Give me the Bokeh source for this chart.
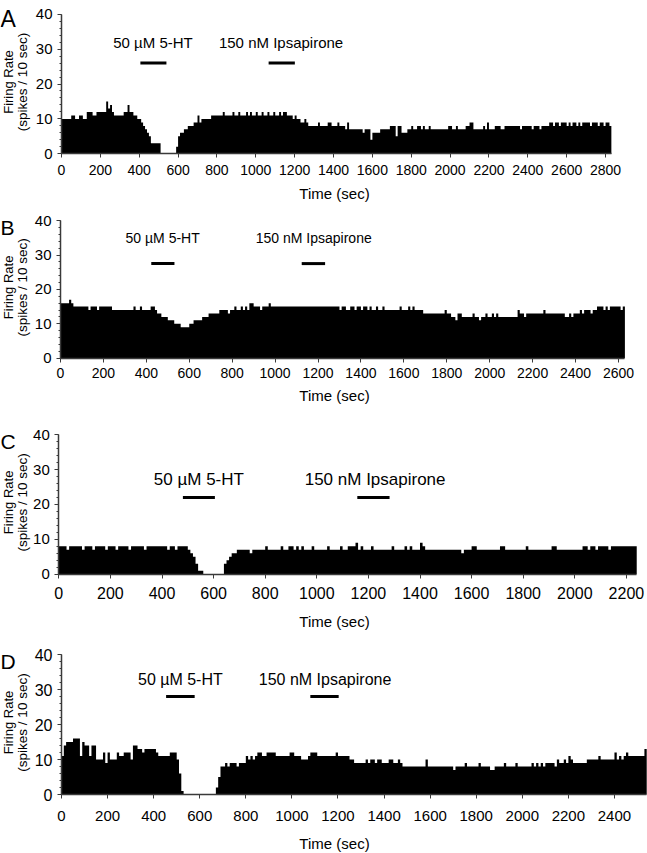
import math
from bokeh.plotting import figure
from bokeh.models import Range1d, SingleIntervalTicker, Label, LinearAxis
from bokeh.layouts import column
from bokeh.embed import file_html
from bokeh.resources import INLINE

BIN_SEC = 10
DRUG_NAMES = ["50 µM 5-HT", "150 nM Ipsapirone"]
Y_TICKS = [0, 10, 20, 30, 40]

# firing rate per 10-s bin (spikes / 10 sec)
rate_a = [
    10, 10, 10, 10, 10, 11, 11, 10, 10, 11,
    11, 10, 10, 12, 12, 12, 11, 11, 12, 12,
    12, 12, 12, 15, 13, 14, 12, 11, 11, 11,
    11, 11, 12, 12, 14, 12, 12, 11, 11, 10,
    10, 9, 8, 7, 6, 5, 3, 3, 3, 3,
    3, 0, 0, 0, 0, 0, 0, 0, 0, 2,
    5, 6, 6, 7, 7, 8, 8, 8, 9, 9,
    11, 9, 10, 10, 10, 10, 10, 11, 11, 11,
    11, 11, 11, 12, 11, 11, 11, 11, 12, 11,
    11, 12, 11, 11, 11, 12, 11, 12, 11, 11,
    12, 11, 11, 12, 11, 11, 12, 11, 11, 12,
    11, 11, 12, 11, 12, 12, 11, 11, 11, 10,
    11, 10, 10, 9, 9, 10, 9, 8, 8, 8,
    8, 8, 9, 8, 8, 8, 8, 9, 9, 8,
    8, 8, 9, 8, 8, 8, 7, 9, 7, 7,
    7, 7, 7, 7, 7, 6, 7, 7, 7, 4,
    6, 6, 6, 6, 7, 7, 7, 7, 7, 8,
    8, 8, 5, 8, 8, 6, 6, 6, 7, 7,
    8, 7, 7, 8, 8, 7, 8, 7, 7, 8,
    7, 7, 7, 7, 7, 7, 7, 7, 7, 8,
    8, 7, 7, 8, 7, 7, 7, 7, 8, 8,
    9, 9, 7, 7, 7, 7, 7, 8, 7, 9,
    7, 7, 7, 8, 8, 8, 7, 7, 8, 8,
    8, 8, 8, 8, 8, 8, 7, 8, 8, 8,
    8, 8, 7, 8, 8, 8, 7, 8, 8, 8,
    8, 9, 9, 8, 9, 9, 8, 9, 9, 9,
    8, 9, 8, 9, 9, 8, 9, 8, 9, 9,
    9, 9, 8, 9, 9, 9, 8, 9, 9, 8,
    9, 9, 8,
]

rate_b = [
    16, 16, 16, 16, 17, 16, 15, 15, 15, 15,
    15, 15, 15, 14, 15, 15, 15, 14, 15, 15,
    15, 15, 15, 15, 14, 14, 14, 14, 14, 14,
    14, 14, 14, 14, 15, 14, 14, 15, 14, 14,
    14, 14, 15, 15, 14, 13, 13, 12, 12, 12,
    11, 11, 11, 10, 10, 10, 9, 9, 9, 9,
    10, 10, 11, 11, 11, 11, 12, 12, 12, 13,
    13, 13, 13, 13, 14, 14, 14, 14, 13, 14,
    14, 15, 14, 14, 15, 14, 15, 14, 16, 16,
    15, 15, 15, 14, 15, 15, 15, 16, 15, 15,
    15, 15, 15, 15, 15, 15, 15, 15, 15, 15,
    15, 15, 15, 15, 15, 15, 15, 15, 15, 15,
    15, 15, 15, 15, 15, 15, 15, 15, 15, 15,
    14, 15, 15, 14, 14, 15, 15, 14, 15, 15,
    14, 15, 15, 14, 15, 14, 14, 15, 14, 14,
    15, 14, 14, 14, 14, 14, 14, 14, 15, 14,
    14, 14, 15, 14, 15, 14, 14, 14, 14, 13,
    13, 13, 13, 13, 13, 13, 13, 13, 13, 14,
    13, 13, 12, 12, 11, 13, 13, 12, 12, 12,
    12, 12, 13, 12, 12, 11, 12, 12, 13, 12,
    12, 13, 12, 13, 12, 12, 12, 12, 12, 12,
    12, 12, 12, 14, 13, 13, 12, 13, 13, 13,
    13, 13, 13, 13, 13, 14, 13, 13, 13, 13,
    13, 13, 13, 13, 13, 12, 12, 13, 12, 13,
    13, 13, 14, 13, 14, 14, 14, 13, 14, 14,
    15, 15, 15, 14, 15, 14, 15, 15, 15, 15,
    15, 14, 15,
]

rate_c = [
    8, 8, 8, 7, 8, 8, 8, 8, 8, 7,
    8, 8, 8, 7, 8, 8, 8, 8, 7, 8,
    8, 8, 7, 8, 8, 8, 8, 7, 8, 8,
    8, 8, 8, 7, 8, 8, 8, 8, 8, 8,
    8, 8, 7, 8, 8, 7, 8, 8, 8, 8,
    7, 6, 5, 3, 1, 1, 0, 0, 0, 0,
    0, 0, 0, 0, 3, 4, 5, 6, 6, 7,
    7, 7, 7, 7, 6, 7, 7, 7, 7, 7,
    8, 7, 7, 7, 7, 7, 8, 7, 7, 8,
    8, 7, 8, 7, 8, 7, 7, 7, 8, 7,
    7, 7, 7, 7, 8, 7, 7, 7, 7, 8,
    7, 7, 8, 8, 8, 9, 7, 8, 7, 7,
    7, 8, 7, 7, 7, 7, 7, 7, 7, 8,
    7, 7, 7, 7, 8, 7, 8, 7, 7, 7,
    9, 8, 7, 7, 7, 7, 7, 7, 7, 7,
    7, 7, 7, 7, 7, 7, 6, 7, 7, 7,
    8, 8, 7, 7, 7, 7, 7, 7, 7, 7,
    7, 8, 8, 7, 7, 7, 7, 7, 7, 7,
    7, 8, 7, 7, 7, 7, 7, 7, 7, 7,
    7, 8, 8, 7, 7, 7, 7, 7, 7, 7,
    7, 7, 7, 8, 8, 7, 8, 8, 7, 8,
    8, 8, 8, 7, 8, 8, 8, 8, 8, 8,
    8, 8, 8, 8,
]

rate_d = [
    11, 14, 15, 15, 15, 16, 16, 16, 11, 15,
    14, 14, 11, 14, 14, 10, 10, 10, 12, 9,
    12, 10, 10, 10, 12, 11, 11, 12, 12, 12,
    10, 14, 14, 13, 13, 12, 13, 13, 13, 13,
    13, 12, 11, 11, 11, 11, 11, 12, 12, 12,
    10, 6, 1, 0, 0, 0, 0, 0, 0, 0,
    0, 0, 0, 0, 0, 0, 0, 2, 5, 8,
    8, 9, 8, 9, 9, 9, 8, 9, 9, 9,
    11, 10, 11, 10, 11, 12, 12, 11, 11, 12,
    12, 12, 12, 11, 11, 11, 11, 11, 11, 12,
    12, 11, 11, 11, 10, 10, 10, 11, 12, 12,
    12, 11, 11, 11, 11, 11, 11, 11, 11, 12,
    11, 11, 11, 11, 11, 10, 10, 9, 9, 9,
    9, 9, 10, 9, 10, 10, 9, 10, 10, 9,
    9, 9, 10, 10, 9, 9, 10, 9, 8, 8,
    8, 8, 8, 8, 8, 8, 8, 8, 10, 8,
    8, 8, 8, 8, 8, 8, 8, 8, 8, 8,
    7, 8, 8, 8, 8, 9, 8, 8, 8, 8,
    8, 9, 8, 8, 8, 8, 7, 7, 8, 8,
    8, 8, 9, 8, 8, 8, 8, 9, 8, 8,
    8, 8, 8, 8, 9, 8, 9, 8, 9, 8,
    9, 9, 9, 9, 8, 10, 9, 9, 10, 9,
    11, 10, 9, 9, 9, 9, 9, 9, 10, 10,
    10, 10, 10, 11, 10, 10, 10, 10, 10, 10,
    12, 10, 11, 10, 11, 12, 11, 11, 11, 11,
    11, 11, 11, 13,
]

# drug application periods (sec): [start, end]
a_5ht = [406, 540]
a_ips = [1066, 1201]
b_5ht = [423, 531]
b_ips = [1124, 1233]
c_5ht = [481, 605]
c_ips = [1157, 1282]
d_5ht = [454, 578]
d_ips = [1080, 1203]

FONT = "Liberation Sans"
W = 647
AXIS_COLOR = "#3a3a3a"

# layout of each panel, in page pixels
panels = [
    dict(letter="A", rates=rate_a, drugs=[a_5ht, a_ips], xmax=2830,
         top=0, H=207, x0=61, xs=0.1943, y0=153.3, ys=3.49,
         bar_y=26, lab_y=32, lab_x=[471, 1130], lab_size=15,
         xt_size=14, yt_size=15, xt_stand=7, time_px=(334, 192.5), time_size=15,
         letter_py=18.5, letter_size=23),
    dict(letter="B", rates=rate_b, drugs=[b_5ht, b_ips], xmax=2630,
         top=207, H=207, x0=60, xs=0.2146, y0=357.7, ys=3.44,
         bar_y=27.5, lab_y=34.8, lab_x=[476, 1180], lab_size=14,
         xt_size=14, yt_size=15, xt_stand=6, time_px=(334, 395), time_size=15,
         letter_py=227, letter_size=21),
    dict(letter="C", rates=rate_c, drugs=[c_5ht, c_ips], xmax=2240,
         top=414, H=218, x0=58.3, xs=0.2580, y0=573.7, ys=3.49,
         bar_y=22, lab_y=27.1, lab_x=[543, 1226], lab_size=17,
         xt_size=16, yt_size=15, xt_stand=9, time_px=(334, 621), time_size=15,
         letter_py=440.5, letter_size=21),
    dict(letter="D", rates=rate_d, drugs=[d_5ht, d_ips], xmax=2540,
         top=632, H=221, x0=61, xs=0.2304, y0=794, ys=3.5,
         bar_y=28, lab_y=32.9, lab_x=[516, 1144], lab_size=16,
         xt_size=15, yt_size=16, xt_stand=12, time_px=(334, 843), time_size=15,
         letter_py=660.5, letter_size=21),
]


def make_panel(cfg):
    x0, xs, y0, ys = cfg["x0"], cfg["xs"], cfg["y0"], cfg["ys"]
    top, H = cfg["top"], cfg["H"]

    def tx(px):  # page x pixel -> seconds
        return (px - x0) / xs

    def vy(py):  # page y pixel -> rate value
        return (y0 - py) / ys

    p = figure(width=W, height=H,
               x_range=Range1d(tx(0), tx(W)), y_range=Range1d(vy(top + H), vy(top)),
               output_backend="svg", toolbar_location=None,
               x_axis_location=None, y_axis_location=None)
    p.min_border_left = 0
    p.min_border_right = 0
    p.min_border_top = 0
    p.min_border_bottom = 0
    p.outline_line_color = None
    p.xgrid.visible = False
    p.ygrid.visible = False
    p.background_fill_color = "white"
    p.border_fill_color = "white"

    rates = cfg["rates"]
    n = len(rates)
    edges = [i * BIN_SEC for i in range(n + 1)]
    tops = list(rates) + [rates[-1]]
    p.varea_step(x=edges, y1=[0] * (n + 1), y2=tops, step_mode="after",
                 fill_color="black")

    # drug application bars and labels
    starts = [d[0] for d in cfg["drugs"]]
    ends = [d[1] for d in cfg["drugs"]]
    ys_bar = [cfg["bar_y"]] * len(starts)
    p.segment(x0=starts, y0=ys_bar, x1=ends, y1=ys_bar, line_color="black", line_width=3)
    for name, lx in zip(DRUG_NAMES, cfg["lab_x"]):
        p.add_layout(Label(x=lx, y=cfg["lab_y"], text=name, text_align="center",
                           text_baseline="middle", text_font=FONT,
                           text_font_size=f"{cfg['lab_size']}px", text_color="black"))

    # axes, fixed at the data origin
    xaxis = LinearAxis(fixed_location=0, bounds=(0, cfg["xmax"]),
                       ticker=SingleIntervalTicker(interval=200, num_minor_ticks=0))
    yaxis = LinearAxis(fixed_location=0, bounds=(Y_TICKS[0], Y_TICKS[-1]),
                       ticker=SingleIntervalTicker(interval=10, num_minor_ticks=5))
    for ax in (xaxis, yaxis):
        ax.axis_line_color = AXIS_COLOR
        ax.axis_line_width = 1.5
        ax.major_tick_line_color = AXIS_COLOR
        ax.minor_tick_line_color = AXIS_COLOR
        ax.major_tick_in = 0
        ax.major_tick_out = 4
        ax.minor_tick_in = 0
        ax.minor_tick_out = 2
        ax.major_label_text_font = FONT
        ax.major_label_text_color = "black"
    xaxis.major_label_text_font_size = f"{cfg['xt_size']}px"
    yaxis.major_label_text_font_size = f"{cfg['yt_size']}px"
    xaxis.major_label_standoff = cfg["xt_stand"]
    yaxis.major_label_standoff = 5
    p.add_layout(xaxis, "below")
    p.add_layout(yaxis, "left")

    # axis titles and panel letter
    mid_v = vy(y0 - 20 * ys - 2)
    p.add_layout(Label(x=tx(8), y=mid_v, text="Firing Rate", angle=math.pi / 2,
                       text_align="center", text_baseline="middle", text_font=FONT,
                       text_font_size="13px", text_color="black"))
    p.add_layout(Label(x=tx(21.5), y=mid_v, text="(spikes / 10 sec)", angle=math.pi / 2,
                       text_align="center", text_baseline="middle", text_font=FONT,
                       text_font_size="13.5px", text_color="black"))
    p.add_layout(Label(x=tx(cfg["time_px"][0]), y=vy(cfg["time_px"][1]),
                       text="Time (sec)", text_align="center", text_baseline="middle",
                       text_font=FONT, text_font_size=f"{cfg['time_size']}px",
                       text_color="black"))
    p.add_layout(Label(x=tx(0), y=vy(cfg["letter_py"]), text=cfg["letter"],
                       text_align="left", text_baseline="alphabetic",
                       text_font=FONT, text_font_size=f"{cfg['letter_size']}px",
                       text_color="black"))
    return p


figs = [make_panel(c) for c in panels]
layout = column(*figs, spacing=0)

with open("out.html", "w") as f:
    f.write(file_html(layout, INLINE))
